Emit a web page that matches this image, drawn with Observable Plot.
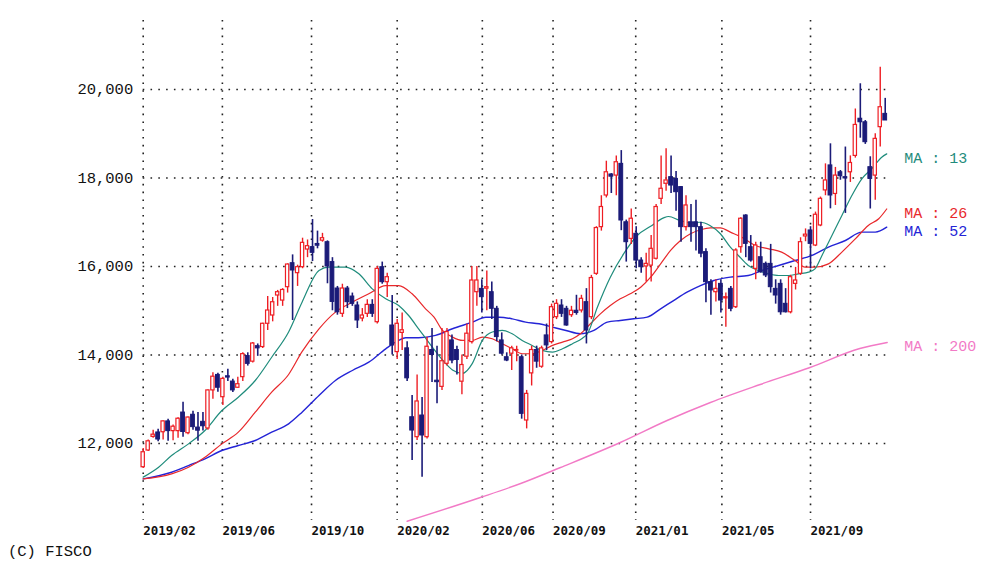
<!DOCTYPE html>
<html>
<head>
<meta charset="utf-8">
<script src="https://cdn.jsdelivr.net/npm/d3@7"></script>
<script src="https://cdn.jsdelivr.net/npm/@observablehq/plot@0.6"></script>
<style>
  html, body { margin: 0; padding: 0; background: #fff; }
  #chart svg { display: block; }
  #caption { font-family: "Liberation Mono", "DejaVu Sans Mono", monospace; font-size: 15.5px; line-height: 24px; padding-left: 8px; color: #111; height: 30px; }
</style>
</head>
<body>
<div id="chart"></div>
<div id="caption">(C) FISCO</div>
<script>
// ---- weekly OHLC (150 weeks) ----
const open = [11464,11842,12150,12250,12255,12500,12280,12280,12700,12233,12650,12360,12490,12340,13200,13550,13047,13520,13400,13260,
13500,13977,13850,14200,14180,14706,14893,15345,15230,15533,16075,15850,15985,16384,16437,16510,16585,16550,16100,15503,
14931,15503,15322,15119,14825,14931,15133,14742,15985,15646,14667,14066,14500,14151,12594,12143,12633,12143,14113,13420,
13280,13801,14330,14113,13397,13962,14292,15420,15495,15500,15420,15044,14330,13950,14030,14100,13950,12520,13585,14113,
13735,14443,14292,14855,15119,15044,14900,15000,15006,15194,14855,15835,16890,17605,18080,18055,18320,17000,16625,16740,
16135,16000,16020,16175,17530,17870,18020,17980,17795,16890,17000,17000,16890,16326,15646,15420,15608,15280,15495,15081,
16437,17153,16437,15947,16210,16060,16060,15495,15608,15157,14966,15608,15835,16680,16815,16475,16928,17720,18285,17640,
18130,18020,18130,18500,19340,19260,18245,18055,19150,19450];
const high = [11887,12080,12300,12320,12510,12550,12420,12580,12934,12600,12730,12700,12700,13210,13600,13590,13500,13680,13450,13500,
14050,14050,14280,14250,14720,15322,15300,15460,15500,16060,16263,16030,16640,16600,17062,16800,16750,16580,16200,15550,
15600,15550,15400,15200,15050,15250,15250,16000,16100,15850,15345,14800,14950,14300,13085,13548,13040,14400,14600,14200,
14600,14600,14450,14200,14000,14700,16000,16000,15700,15900,15650,15100,14500,14050,14200,14200,14000,13200,14200,14200,
14200,14700,15150,15250,15250,15100,15100,15350,15350,15500,15800,16900,17600,18380,18100,18500,18620,17050,17300,16900,
16200,16300,16700,17400,18500,18660,18500,18150,17800,17600,17400,17500,17000,16400,15700,15700,15700,15400,15550,16400,
17100,17170,16700,16550,16550,16100,16500,15700,15700,15500,15800,15980,16650,16850,16900,17230,17570,18320,18773,18240,
18170,18700,18500,19560,20130,19300,18480,19000,20504,19800];
const low = [11435,11820,12120,12040,12080,12050,12060,12120,12143,12200,12300,12050,12280,12300,13000,13160,12860,13400,13150,13250,
13400,13750,13820,13970,14150,14554,14750,15100,15100,15400,14780,15550,15950,16200,16114,16400,16550,15610,15000,14900,
14850,15050,15100,14599,14750,14850,14850,14700,15600,15300,14000,13900,14100,13400,11616,12068,11240,12100,13380,12900,
13200,13750,13800,13550,13100,13900,14250,15100,14950,15000,14800,14300,14000,13850,13650,13850,12550,12330,13300,13700,
13700,14100,14250,14800,14850,14650,14850,14900,14950,14250,14800,15800,16800,17550,17650,17600,16810,16100,16500,15950,
15850,15650,15650,16150,17400,17700,17650,17250,16550,16800,16550,16350,16200,15180,14900,15200,14950,14630,14980,15050,
16300,16200,16100,15700,15850,15750,15400,15150,14900,14950,14930,15470,15800,16560,15947,16450,16900,17600,17304,17380,
17950,17200,17900,18450,18900,18760,17300,17500,18700,19300];
const close = [11803,12050,12200,12090,12500,12280,12380,12560,12260,12587,12370,12290,12390,13200,13510,13260,13461,13490,13200,13340,
14020,13800,14260,14150,14706,15006,15193,15420,15470,16045,15910,15985,16535,16460,16310,16470,16640,16000,15200,14966,
15503,15194,15157,14780,14893,15133,14931,15947,15646,15759,14215,14706,14560,13473,12293,12950,12181,14187,14000,13386,
13860,14519,13875,13887,13774,14482,15684,15684,15307,15533,15044,14405,14030,13875,14150,14113,12670,13122,14113,13850,
14150,14217,15081,15157,14931,14667,15000,14950,15270,14554,15740,16870,17345,18130,18030,18357,17040,16550,17080,16135,
15985,16060,16400,17345,17757,17945,17830,17680,16890,17380,16890,16890,16290,15646,15458,15495,15231,15307,15044,16363,
17080,16512,16135,16475,15870,15797,15533,15345,14966,14966,15759,15684,16550,16720,16512,17170,17530,17945,17605,18055,
18040,17990,18340,19200,19260,18810,17980,18885,19600,19300];

// ---- moving averages (week index, value) ----
const ma13Week = [0,3.1,5.7,9.1,12.4,15.8,19.1,22.5,25.8,29.2,31.9,35.3,37.3,40.6,43.3,46,48.7,51.3,53.3,55.3,58.1,60.1,62.1,64.1,66.1,68.1,70.1,72.1,74.1,76.1,78.1,80.1,82.2,84.2,86.2,88.2,89.2,91.2,93.8,96.5,99.2,101.9,104.5,105.5,107.8,109.8,111.8,113.8,115.9,117.9,119.5,121.5,123.5,125.6,127.6,129.6,131.6,133.6,134.9,136.3,138.3,140.3,142.3,144.3,146.3,148.3,149.3];
const ma13Val = [11240,11464,11729,11992,12293,12745,13047,13424,13950,14519,15194,15910,15985,15985,15835,15495,15270,15119,14893,14592,14170,13887,13661,13585,13811,14330,14519,14555,14480,14330,14217,14104,14066,14142,14255,14380,14480,15081,15759,16290,16700,16910,17100,17130,17040,16990,17000,16928,16740,16437,16250,16024,15910,15835,15797,15797,15835,15872,15947,16250,16700,17153,17605,17983,18209,18470,18546];
const ma26Week = [0,5.7,9.1,12.4,15.8,19.1,22.5,25.8,29.2,31.9,35.3,38.6,42,45.3,48.7,51.3,54,56.7,58.4,60.1,62.1,64.1,66.1,68.1,70.1,72.1,74.1,76.1,78.1,80.1,82.2,84.2,86.2,87.8,89.8,91.8,93.8,95.8,97.8,99.9,101.9,103.9,105.9,107.9,109.9,111.9,113.9,115.9,117.9,120.2,122.9,125.6,128.2,130.9,132.9,134.9,137.6,140.3,143,145.6,147.7,149.3];
const ma26Val = [11200,11313,11464,11690,11992,12256,12708,13160,13560,14075,14592,14970,15194,15383,15570,15570,15383,15044,14855,14555,14405,14330,14330,14405,14368,14255,14142,14029,14029,14104,14217,14292,14368,14480,14706,14931,15119,15270,15383,15533,15759,16060,16363,16588,16740,16830,16875,16875,16777,16663,16475,16400,16326,16135,15985,15985,16060,16326,16625,16928,17080,17300];
const ma52Week = [0,5.7,9.1,12.4,15.8,19.1,22.5,25.8,29.2,31.9,35.3,38.6,42,45.3,48.7,51.3,52.7,55.3,58.7,62.1,66.1,68.8,71.5,74.1,76.8,79.5,82.2,84.9,87.8,90.5,93.2,95.8,98.5,101.2,103.9,106.5,109.2,111.9,114.6,117.9,121.5,124.2,127.6,130.9,134.3,137.6,141,144.3,147,149.3];
const ma52Val = [11200,11351,11502,11653,11842,11955,12068,12256,12445,12708,13085,13424,13650,13838,14140,14330,14390,14390,14443,14593,14743,14855,14855,14818,14743,14706,14630,14555,14480,14555,14743,14780,14818,14855,15044,15231,15420,15570,15684,15759,15797,15910,16024,16135,16250,16437,16588,16777,16777,16890];
const ma200Week = [53,67.7,75.8,83.8,95.8,105.2,113.9,123.9,133.9,143.9,149.4];
const ma200Val = [10244,10780,11096,11458,12023,12520,12927,13334,13718,14147,14282];

// ---- axes ----
const yTicks = [12000, 14000, 16000, 18000, 20000];
const xTickWeek = [0, 15.9, 33.8, 51, 68.1, 82.3, 98.9, 116.2, 134];
const xTickLabels = ["2019/02","2019/06","2019/10","2020/02","2020/06","2020/09","2021/01","2021/05","2021/09"];
const maLabels = ["MA : 13", "MA : 26", "MA : 52", "MA : 200"];

// ---- build ----
const RED = "#ee1d23", NAVY = "#1b1b78";
const C13 = "#1f8c7c", C26 = "#e8282b", C52 = "#2424d6", C200 = "#f27ac6";
const candles = open.map((o, i) => ({i, o, h: high[i], l: low[i], c: close[i]}));
const up = candles.filter(d => d.c >= d.o);
const down = candles.filter(d => d.c < d.o);
const series = (w, v) => w.map((x, k) => ({x, y: v[k]}));
const ma13 = series(ma13Week, ma13Val), ma26 = series(ma26Week, ma26Val),
      ma52 = series(ma52Week, ma52Val), ma200 = series(ma200Week, ma200Val);
const labelOf = new Map(xTickWeek.map((t, k) => [t, xTickLabels[k]]));
const last = a => a[a.length - 1];
const maEnds = [
  {t: maLabels[0], y: last(ma13Val), c: C13},
  {t: maLabels[1], y: last(ma26Val), c: C26},
  {t: maLabels[2], y: last(ma52Val), c: C52},
  {t: maLabels[3], y: last(ma200Val), c: C200}
];
const grid = {stroke: "#222", strokeOpacity: 1, strokeWidth: 1.6, strokeDasharray: "1.6,6.2"};

const chart = Plot.plot({
  width: 1008,
  height: 540,
  marginLeft: 142.7,
  marginRight: 118.3,
  marginTop: 20,
  marginBottom: 20,
  style: {fontFamily: "'Liberation Mono', 'DejaVu Sans Mono', monospace", background: "#fff", color: "#111"},
  x: {domain: [0, 150], axis: null},
  y: {domain: [10260, 21560], axis: null},
  marks: [
    Plot.gridY(yTicks, grid),
    Plot.gridX(xTickWeek, grid),
    Plot.line(ma200, {x: "x", y: "y", stroke: C200, strokeWidth: 1.4, curve: "monotone-x"}),
    Plot.line(ma52, {x: "x", y: "y", stroke: C52, strokeWidth: 1.4, curve: "monotone-x"}),
    Plot.line(ma26, {x: "x", y: "y", stroke: C26, strokeWidth: 1.2, curve: "monotone-x"}),
    Plot.line(ma13, {x: "x", y: "y", stroke: C13, strokeWidth: 1.2, curve: "monotone-x"}),
    Plot.ruleX(up, {x: "i", y1: "l", y2: "h", stroke: RED, strokeWidth: 1.4}),
    Plot.ruleX(down, {x: "i", y1: "l", y2: "h", stroke: NAVY, strokeWidth: 1.6}),
    Plot.rect(up, {x1: d => d.i - 0.33, x2: d => d.i + 0.33, y1: "o", y2: "c", fill: "white", stroke: RED, strokeWidth: 1.2}),
    Plot.rect(down, {x1: d => d.i - 0.38, x2: d => d.i + 0.38, y1: "o", y2: "c", fill: NAVY, stroke: NAVY, strokeWidth: 1}),
    Plot.axisY(yTicks, {tickSize: 0, tickPadding: 10, tickFormat: d3.format(","), fontSize: 15.5, fill: "#111"}),
    Plot.axisX(xTickWeek, {tickSize: 0, tickPadding: 6, tickFormat: d => labelOf.get(d), textAnchor: "start", fontSize: 12.5, fontWeight: "bold", fontFamily: "'DejaVu Sans Mono', monospace", fill: "#111"}),
    Plot.text(maEnds, {x: 150, y: "y", text: "t", fill: "c", textAnchor: "start", dx: 14, dy: 4, fontSize: 15})
  ]
});
document.getElementById("chart").appendChild(chart);
</script>
</body>
</html>
